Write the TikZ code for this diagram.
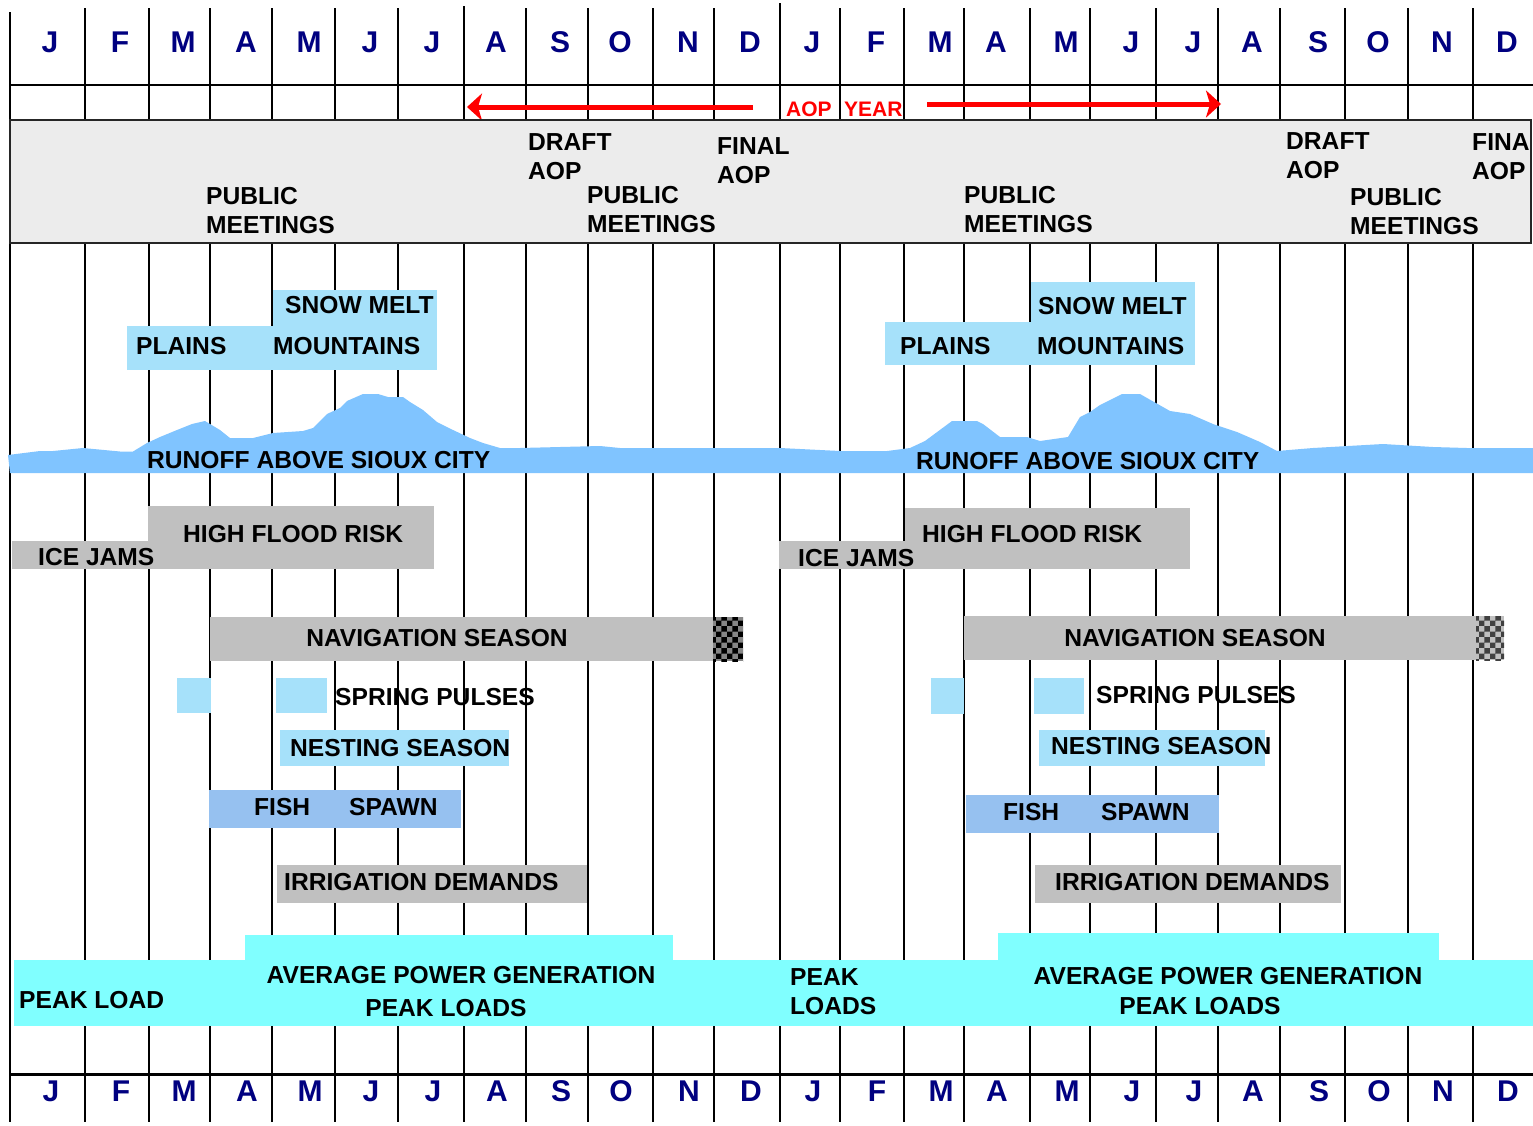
\documentclass[tikz,border=0pt]{standalone}
\usepackage{fontspec}
\setmainfont{Liberation Sans}
\usetikzlibrary{patterns,arrows.meta}
\definecolor{navy}{HTML}{000080}
\definecolor{pmgray}{HTML}{ECECEC}
\definecolor{barg}{HTML}{C0C0C0}
\definecolor{lblue}{HTML}{A6E1FA}
\definecolor{runoff}{HTML}{80C4FF}
\definecolor{fishb}{HTML}{96C1F0}
\definecolor{pcyan}{HTML}{80FFFF}
\definecolor{aopred}{HTML}{FF0000}
\tikzset{
  gridline/.style={line width=1.4pt, black},
  mon/.style={font=\fontsize{30}{30}\selectfont\bfseries, text=navy, inner sep=0pt, anchor=center},
  lbl/.style={font=\fontsize{24.6}{29.5}\selectfont\bfseries, inner sep=0pt, anchor=west},
  lbltwo/.style={font=\fontsize{24.6}{29.5}\selectfont\bfseries, inner sep=0pt, anchor=north west, align=left},
  redlbl/.style={font=\fontsize{21}{21}\selectfont\bfseries, text=aopred, inner sep=0pt, anchor=west},
  redarrow/.style={draw=aopred, line width=5pt, -{Stealth[length=15pt, width=27pt, inset=4pt]}}
}
\begin{document}
\begin{tikzpicture}[x=1pt, y=-1pt]
\useasboundingbox (0,0) rectangle (1533,1125);
\fill[white] (0,0) rectangle (1533,1125);

% grid
\foreach \x in {85,149,210,272,335,398,526,588,653,714,840,904,964,1030,1090,1156,1218,1280,1345,1408,1473}
  \draw[gridline] (\x,8) -- (\x,1122);
\draw[line width=2pt] (464,6) -- (464,1122);
\draw[line width=2pt] (780,3) -- (780,1122);
\draw[line width=1.4pt] (10,12) -- (10,85);
\draw[line width=2.4pt] (10,80) -- (10,1122);
\draw[gridline] (10,85) -- (1533,85);
\draw[line width=3pt] (10,1074) -- (1533,1074);

% month letters
\foreach \m/\x [count=\i] in {J/50,F/120,M/183,A/246,M/309,J/370,J/432,A/496,S/560,O/620,N/688,D/750,J/812,F/876,M/940,A/996,M/1066,J/1131,J/1193,A/1252,S/1318,O/1378,N/1442,D/1507}{
  \node[mon] (top\i) at (\x,42) {\m};
  \node[mon] (bot\i) at (\x+1,1091) {\m};
}

% AOP year
\node[redlbl] (aop) at (786,109.5) {AOP};
\node[redlbl] (year) at (844,109.5) {YEAR};
\coordinate (aopLs) at (753,107);
\coordinate (aopLe) at (467,107);
\coordinate (aopRs) at (927,104);
\coordinate (aopRe) at (1221,104);
\draw[redarrow] (aopLs) -- (aopLe);
\draw[redarrow] (aopRs) -- (aopRe);

% public meetings band
\filldraw[fill=pmgray, draw=black!85, line width=1.6pt] (10,120) rectangle (1531,243);
\node[lbltwo] (pm1) at (206,187) {PUBLIC\\MEETINGS};
\node[lbltwo] (draft1) at (528,133) {DRAFT\\AOP};
\node[lbltwo] (pm2) at (587,186) {PUBLIC\\MEETINGS};
\node[lbltwo] (final1) at (717,137) {FINAL\\AOP};
\node[lbltwo] (pm3) at (964,186) {PUBLIC\\MEETINGS};
\node[lbltwo] (draft2) at (1286,132) {DRAFT\\AOP};
\node[lbltwo] (pm4) at (1350,188) {PUBLIC\\MEETINGS};
\begin{scope}
  \clip (0,0) rectangle (1530,1125);
  \node[lbltwo] (final2) at (1472,133) {FINAL\\AOP};
\end{scope}

% snow melt
\fill[lblue] (273,290) rectangle (437,326);
\fill[lblue] (127,326) rectangle (437,370);
\fill[lblue] (1031,282) rectangle (1195,322);
\fill[lblue] (885,322) rectangle (1195,365);
\node[lbl] (snow1) at (285,305) {SNOW MELT};
\node[lbl] (plains1) at (136,346) {PLAINS};
\node[lbl] (mount1) at (273,346) {MOUNTAINS};
\node[lbl] (snow2) at (1038,306) {SNOW MELT};
\node[lbl] (plains2) at (900,346) {PLAINS};
\node[lbl] (mount2) at (1037,346) {MOUNTAINS};

% runoff
\fill[runoff] (8,455) -- (40,451) -- (53,451) -- (83,448) -- (120,451.5) -- (133,451.5) -- (147,443) -- (160,437) -- (177,430) -- (192,424) -- (205,421) -- (220,430) -- (230,438) -- (253,438) -- (273,433) -- (303,431) -- (313,428) -- (327,414) -- (340,408) -- (347,401) -- (363,394) -- (378,394) -- (388,397) -- (403,397) -- (410,402) -- (423,410) -- (437,422) -- (453,430) -- (470,438) -- (483,443) -- (500,448) -- (520,448) -- (600,446) -- (620,448) -- (780,448) -- (840,451) -- (887,451) -- (910,448) -- (925,441) -- (952,421) -- (977,421) -- (983,424) -- (1000,437) -- (1027,437) -- (1040,441) -- (1068,437) -- (1080,417) -- (1090,412) -- (1100,405) -- (1122,394) -- (1140,394) -- (1147,398) -- (1170,411) -- (1190,414) -- (1213,424) -- (1237,432) -- (1260,442) -- (1277,451) -- (1313,448) -- (1383,444) -- (1433,447) -- (1467,448) -- (1533,448) -- (1533,473) -- (10,473) -- cycle;
\node[lbl] (run1) at (147,460) {RUNOFF ABOVE SIOUX CITY};
\node[lbl] (run2) at (916,461) {RUNOFF ABOVE SIOUX CITY};

% flood risk / ice jams
\fill[barg] (148,506) rectangle (434,569);
\fill[barg] (12,541) rectangle (148,569);
\fill[barg] (905,508) rectangle (1190,569);
\fill[barg] (779,541) rectangle (905,569);
\node[lbl] (flood1) at (183,534) {HIGH FLOOD RISK};
\node[lbl] (ice1) at (38,557) {ICE JAMS};
\node[lbl] (flood2) at (922,534) {HIGH FLOOD RISK};
\node[lbl] (ice2) at (798,558) {ICE JAMS};

% navigation season
\fill[barg] (210,617) rectangle (713,661);
\fill[barg!70!black] (713,617) rectangle (743,661);
\fill[pattern=checkerboard, pattern color=black] (713,617) rectangle (743,661);
\fill[barg] (964,616) rectangle (1476,660);
\fill[barg] (1476,616) rectangle (1504,660);
\fill[pattern=checkerboard, pattern color=black!75] (1476,616) rectangle (1504,660);
\node[lbl, anchor=center] (nav1) at (437,638) {NAVIGATION SEASON};
\node[lbl, anchor=center] (nav2) at (1195,638) {NAVIGATION SEASON};

% spring pulses
\fill[lblue] (177,678) rectangle (211,713);
\fill[lblue] (276,678) rectangle (327,713);
\fill[lblue] (931,678) rectangle (964,714);
\fill[lblue] (1034,678) rectangle (1084,714);
\node[lbl] (pulse1) at (335,697) {SPRING PULSES};
\node[lbl] (pulse2) at (1096,695) {SPRING PULSES};

% nesting
\fill[lblue] (280,730) rectangle (509,766);
\fill[lblue] (1039,730) rectangle (1265,766);
\node[lbl] (nest1) at (290,748) {NESTING SEASON};
\node[lbl] (nest2) at (1051,746) {NESTING SEASON};

% fish spawn
\fill[fishb] (209,790) rectangle (461,828);
\fill[fishb] (966,795) rectangle (1219,833);
\node[lbl] (fish1) at (254,807) {FISH};
\node[lbl] (spawn1) at (349,807) {SPAWN};
\node[lbl] (fish2) at (1003,812) {FISH};
\node[lbl] (spawn2) at (1101,812) {SPAWN};

% irrigation
\fill[barg] (277,865) rectangle (587,903);
\fill[barg] (1035,865) rectangle (1341,903);
\node[lbl] (irr1) at (284,882) {IRRIGATION DEMANDS};
\node[lbl] (irr2) at (1055,882) {IRRIGATION DEMANDS};

% power
\fill[pcyan] (14,960) rectangle (1533,1026);
\fill[pcyan] (245,935) rectangle (673,961);
\fill[pcyan] (998,933) rectangle (1439,961);
\node[lbl] (peak1) at (19,1000) {PEAK LOAD};
\node[lbl, anchor=center] (avg1) at (461,975) {AVERAGE POWER GENERATION};
\node[lbl, anchor=center] (peaks1) at (446,1008) {PEAK LOADS};
\node[lbltwo] (peak2) at (790,968) {PEAK\\LOADS};
\node[lbl, anchor=center] (avg2) at (1228,976) {AVERAGE POWER GENERATION};
\node[lbl, anchor=center] (peaks2) at (1200,1006) {PEAK LOADS};
\end{tikzpicture}
\end{document}
